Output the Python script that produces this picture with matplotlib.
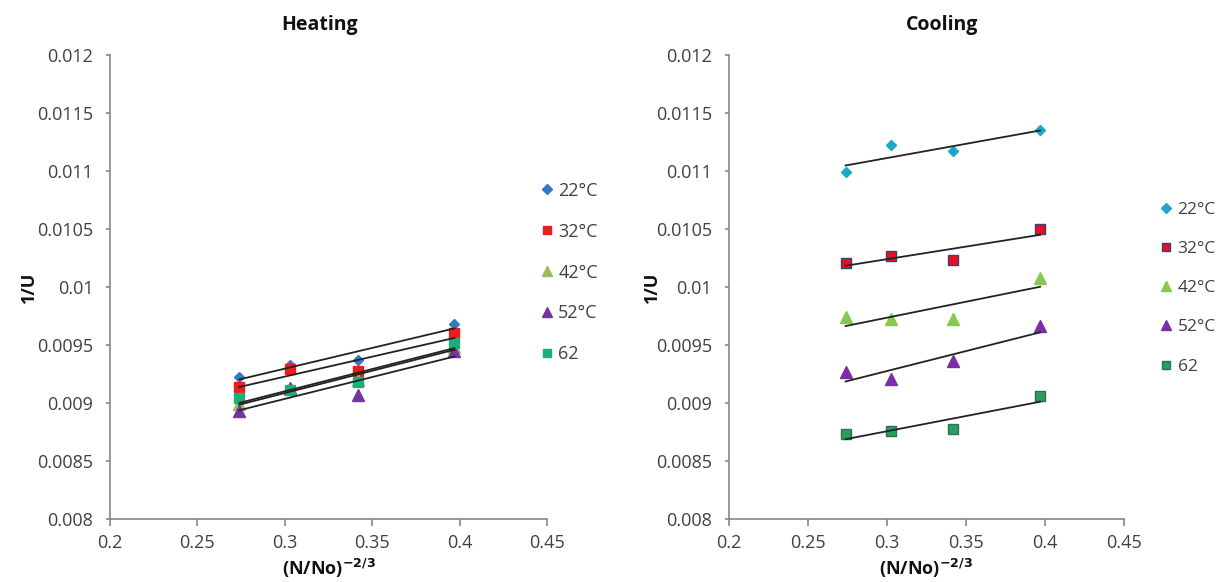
import numpy as np
import matplotlib.pyplot as plt

plt.rcParams['font.family'] = ['Open Sans', 'DejaVu Sans']

# data
x = [0.274, 0.303, 0.342, 0.397]
labels = ['22°C', '32°C', '42°C', '52°C', '62']

heat_22 = [0.00922, 0.00933, 0.00937, 0.00968]
heat_32 = [0.00914, 0.00929, 0.00928, 0.00960]
heat_42 = [0.00899, 0.00912, 0.00920, 0.00948]
heat_52 = [0.00893, 0.00913, 0.00907, 0.00945]
heat_62 = [0.00904, 0.00911, 0.00918, 0.00952]

cool_22 = [0.01099, 0.01122, 0.01117, 0.01135]
cool_32 = [0.01021, 0.01027, 0.01023, 0.01050]
cool_42 = [0.00974, 0.00972, 0.00972, 0.01008]
cool_52 = [0.00927, 0.00921, 0.00936, 0.00966]
cool_62 = [0.00873, 0.00876, 0.00878, 0.00906]

heat_style = [
    dict(marker='D', color='#3479c4', ms=5.5, mec='#3479c4'),
    dict(marker='s', color='#ee1c1c', ms=7, mec='#ee1c1c'),
    dict(marker='^', color='#9bbb59', ms=8, mec='#9bbb59'),
    dict(marker='^', color='#7436a2', ms=8, mec='#7436a2'),
    dict(marker='s', color='#1fae7b', ms=7, mec='#1fae7b'),
]
cool_style = [
    dict(marker='D', color='#1ba8c9', ms=5.5, mec='#1ba8c9'),
    dict(marker='s', color='#e8101e', ms=7, mec='#34407f', mew=1),
    dict(marker='^', color='#86c94f', ms=8, mec='#86c94f'),
    dict(marker='^', color='#7a2fa8', ms=8, mec='#7a2fa8'),
    dict(marker='s', color='#2a9e5c', ms=7, mec='#2f6f57', mew=1),
]

fig = plt.figure(figsize=(12.21, 5.82), dpi=100)
ax1 = fig.add_axes([0.0901, 0.1082, 0.3580, 0.7973])
ax2 = fig.add_axes([0.5967, 0.1082, 0.3238, 0.7973])

grey = '#868686'
txt = '#404040'
fs = 13


def draw(ax, series, styles, ylab_x, leg_x, leg_y, leg_sp, leg_fs):
    xs = np.array(x)
    for ys, st, lab in zip(series, styles, labels):
        ax.plot(xs, ys, ls='none', label=lab, zorder=3, **st)
    for ys in series:
        m, b = np.polyfit(xs, ys, 1)
        ax.plot([xs.min(), xs.max()], [m * xs.min() + b, m * xs.max() + b],
                color='#222222', lw=1.3, zorder=4)
    ax.set_xlim(0.2, 0.45)
    ax.set_ylim(0.008, 0.012)
    ax.set_xticks([0.2, 0.25, 0.3, 0.35, 0.4, 0.45])
    ax.set_xticklabels(['0.2', '0.25', '0.3', '0.35', '0.4', '0.45'])
    ax.set_yticks(np.arange(0.008, 0.01201, 0.0005))
    ax.set_yticklabels(['0.008', '0.0085', '0.009', '0.0095', '0.01',
                        '0.0105', '0.011', '0.0115', '0.012'])
    for s in ['top', 'right']:
        ax.spines[s].set_visible(False)
    for s in ['left', 'bottom']:
        ax.spines[s].set_color(grey)
        ax.spines[s].set_linewidth(1.2)
    ax.tick_params(axis='both', colors=grey, labelcolor=txt, labelsize=fs,
                   width=1.2, direction='out')
    ax.tick_params(axis='x', length=5, pad=6)
    ax.tick_params(axis='y', length=3, pad=9)
    ax.set_xlabel(r'(N/No)$^{\mathbf{-2/3}}$', fontsize=fs, fontweight='bold',
                  color='#111111', labelpad=3)
    ax.set_ylabel('1/U', fontsize=fs, fontweight='bold', color='#111111')
    ax.yaxis.set_label_coords(ylab_x, 0.5)
    leg = ax.legend(loc='upper left', bbox_to_anchor=(leg_x, leg_y), frameon=False,
                    handlelength=0.8, handletextpad=0.25, labelspacing=leg_sp,
                    fontsize=leg_fs, markerscale=0.85)
    for t in leg.get_texts():
        t.set_color(txt)


draw(ax1, [heat_22, heat_32, heat_42, heat_52, heat_62], heat_style,
     -0.165, 0.945, 0.762, 1.27, 13)
draw(ax2, [cool_22, cool_32, cool_42, cool_52, cool_62], cool_style,
     -0.17, 1.05, 0.718, 1.33, 12.5)

fig.text(320 / 1221, 1 - 25 / 582, 'Heating', fontsize=14, fontweight='bold',
         color='#111111', ha='center', va='center')
fig.text(942 / 1221, 1 - 25 / 582, 'Cooling', fontsize=14, fontweight='bold',
         color='#111111', ha='center', va='center')

fig.savefig('out.png', dpi=100)
